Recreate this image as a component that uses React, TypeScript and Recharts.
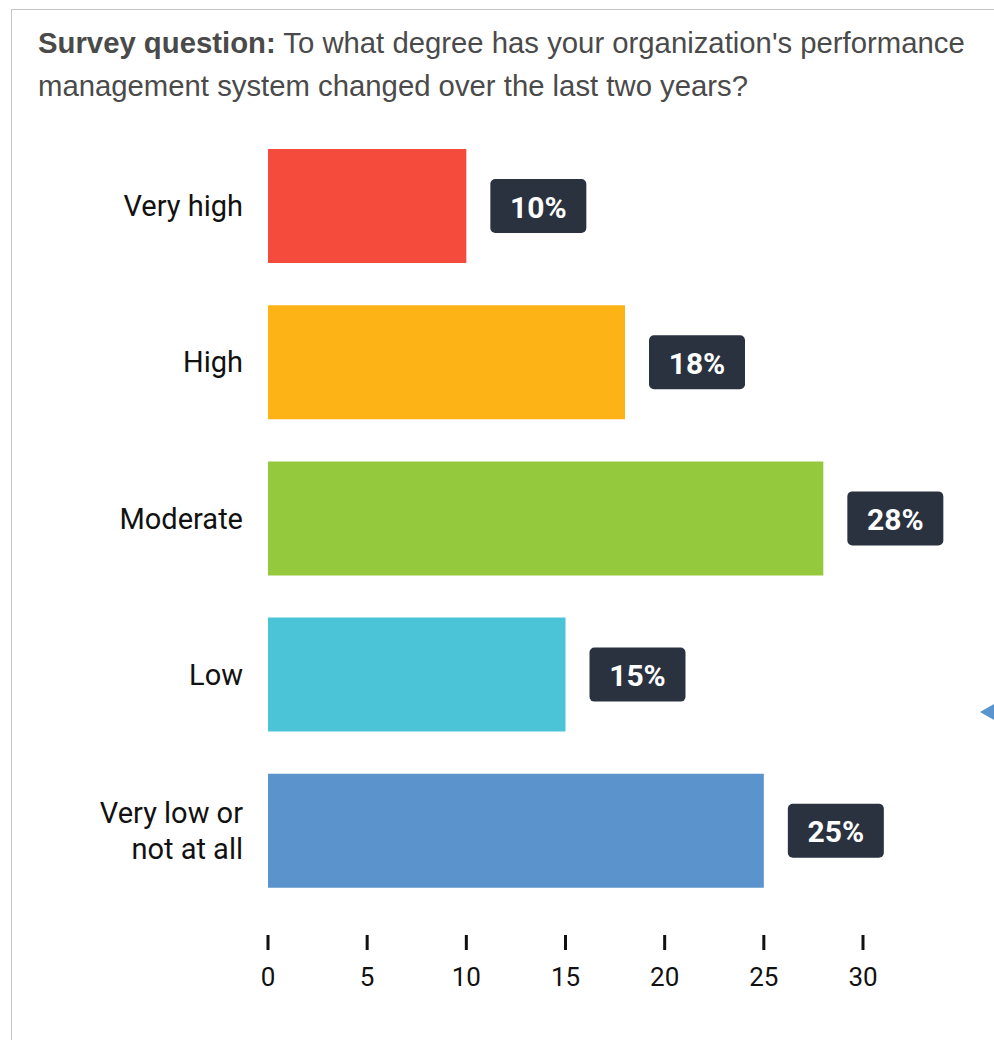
import React from "react";
import { BarChart, Bar, XAxis, YAxis, Cell, LabelList } from "recharts";

const CATEGORIES = ["Very high", "High", "Moderate", "Low", "Very low or\nnot at all"];
const VALUES = [10, 18, 28, 15, 25];
const COLORS = ["#F44B3D", "#FDB316", "#95C93D", "#4BC4D7", "#5B94CC"];
const X_TICKS = [0, 5, 10, 15, 20, 25, 30];

const chartData = CATEGORIES.map((name, i) => ({ name, value: VALUES[i] }));

const FONT = "Roboto, 'Noto Sans', sans-serif";

const CategoryTick = (props: any) => {
  const { x, y, payload } = props;
  const lines = String(payload.value).split("\n");
  const lineHeight = 36;
  const startY = y - ((lines.length - 1) * lineHeight) / 2;
  return (
    <text
      x={x - 17}
      y={startY}
      textAnchor="end"
      dominantBaseline="central"
      fontFamily={FONT}
      fontSize={29}
      fill="#111"
    >
      {lines.map((line, i) => (
        <tspan key={i} x={x - 17} y={startY + i * lineHeight} dominantBaseline="central">
          {line}
        </tspan>
      ))}
    </text>
  );
};

const ValueTick = (props: any) => {
  const { x, y, payload } = props;
  return (
    <g>
      <rect x={x - 1.5} y={y + 26} width={3} height={15} fill="#111" />
      <text
        x={x}
        y={y + 77}
        textAnchor="middle"
        fontFamily={FONT}
        fontSize={26}
        fill="#111"
      >
        {payload.value}
      </text>
    </g>
  );
};

const ValueBadge = (props: any) => {
  const { x, y, width, height, value } = props;
  const bx = x + width + 24;
  const cy = y + height / 2;
  return (
    <g>
      <rect x={bx} y={cy - 27} width={96} height={54} rx={5} fill="#2A3240" />
      <text
        x={bx + 48}
        y={cy + 1}
        textAnchor="middle"
        dominantBaseline="central"
        fontFamily={FONT}
        fontWeight={700}
        fontSize={30}
        fill="#fff"
      >
        {`${value}%`}
      </text>
    </g>
  );
};

export default function App() {
  return (
    <div
      style={{
        position: "absolute",
        left: 0,
        top: 0,
        width: 994,
        height: 1040,
        overflow: "hidden",
        background: "#fff",
      }}
    >
      <div
        style={{
          position: "absolute",
          left: 11,
          top: 9,
          width: 1100,
          height: 1100,
          borderLeft: "1px solid #c9c5c2",
          borderTop: "1px solid #c9c5c2",
        }}
      />
      <div
        style={{
          position: "absolute",
          left: 38,
          top: 21,
          width: 980,
          whiteSpace: "nowrap",
          fontFamily: "'Liberation Sans', Arial, sans-serif",
          fontSize: 29.3,
          lineHeight: "43px",
          color: "#4a4a4a",
        }}
      >
        <b>Survey question:</b> To what degree has your organization's performance
        <br />
        management system changed over the last two years?
      </div>
      <div style={{ position: "absolute", left: 0, top: 0 }}>
        <BarChart
          width={994}
          height={1040}
          data={chartData}
          layout="vertical"
          barSize={114}
          margin={{ top: 128, right: 131, bottom: 51, left: 0 }}
        >
          <XAxis
            type="number"
            domain={[0, 30]}
            ticks={X_TICKS}
            axisLine={false}
            tickLine={false}
            tickSize={0}
            tickMargin={0}
            height={80}
            tick={<ValueTick />}
            interval={0}
          />
          <YAxis
            type="category"
            dataKey="name"
            width={268}
            axisLine={false}
            tickLine={false}
            tick={<CategoryTick />}
            interval={0}
          />
          <Bar dataKey="value" isAnimationActive={false}>
            {chartData.map((d, i) => (
              <Cell key={d.name} fill={COLORS[i]} />
            ))}
            <LabelList dataKey="value" content={<ValueBadge />} />
          </Bar>
        </BarChart>
      </div>
      <div
        style={{
          position: "absolute",
          left: 980,
          top: 704,
          width: 0,
          height: 0,
          borderTop: "8px solid transparent",
          borderBottom: "8px solid transparent",
          borderRight: "14px solid #5B95CF",
        }}
      />
    </div>
  );
}
